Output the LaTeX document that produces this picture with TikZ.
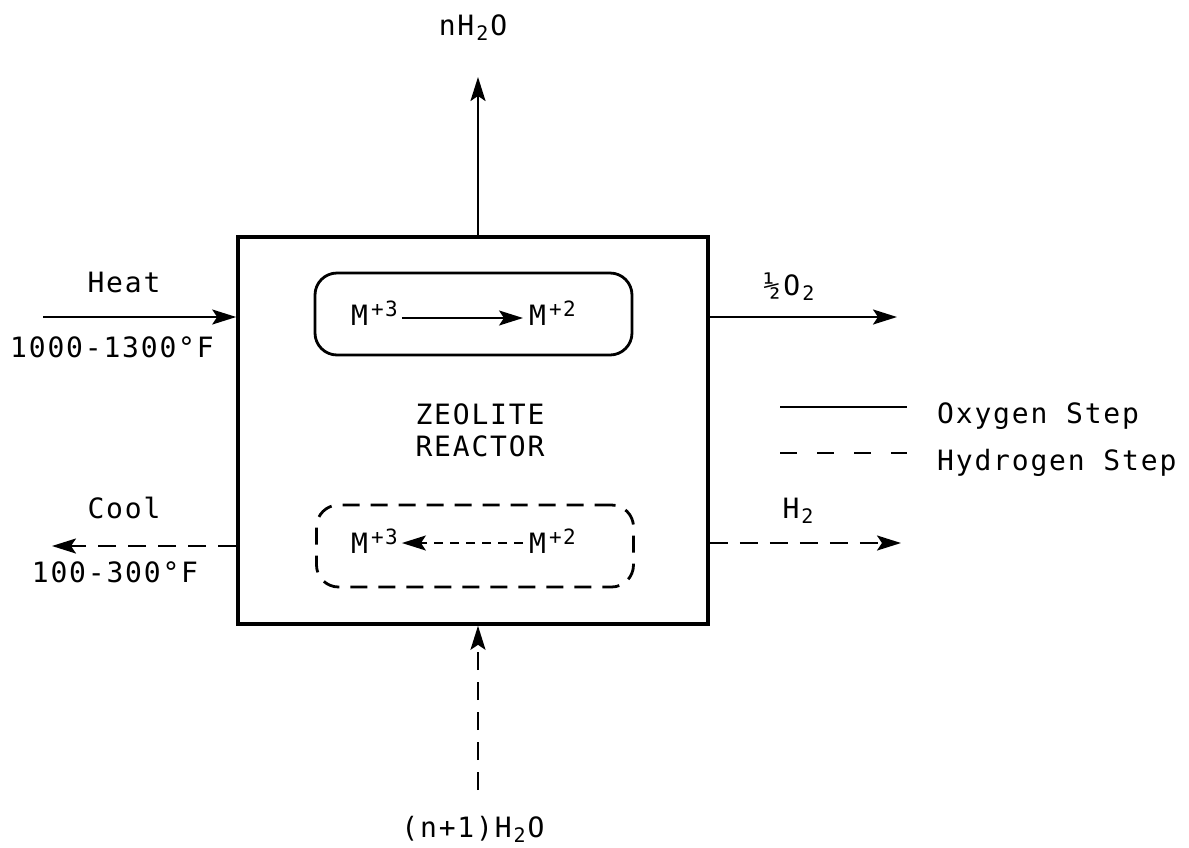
\documentclass[tikz,border=0pt]{standalone}
\usepackage{fontspec}
\usetikzlibrary{arrows.meta,positioning}
\newfontfamily\labelfont{DejaVu Sans Mono}[LetterSpace=6.5]
\newcommand{\chemsub}[1]{\hspace{2pt}\raisebox{-5pt}{\fontsize{20}{20}\selectfont #1}\hspace{2pt}}
\newcommand{\chemsup}[1]{\hspace{3pt}\raisebox{9pt}{\fontsize{21}{21}\selectfont #1}}

\begin{document}
\begin{tikzpicture}[x=1pt,y=-1pt,
          reactor/.style={draw,line width=3.6pt,minimum width=470pt,minimum height=387pt,inner sep=0pt},
          stepbox/.style={draw,line width=2.8pt,rounded corners=22pt,
            minimum width=317pt,minimum height=82pt,inner sep=0pt},
          lbl/.style={font=\labelfont\fontsize{28}{32}\selectfont,inner sep=0pt,align=center},
          flow/.style={-{Stealth[length=24pt,width=15pt,inset=5pt]},line width=2.2pt},
          hflow/.style={flow,dash pattern=on 18pt off 12pt},
          key/.style={line width=2pt}]
        \useasboundingbox (0,0) rectangle (1189,847);
        % reactor and the two steps
        \node[reactor] (reactor) at (473,430.5) {};
        \node[stepbox] (oxbox) at (473.5,314) {};
        \node[stepbox,dash pattern=on 17pt off 11pt] (hybox) at (475,546) {};
        \node[lbl,anchor=base] (title) at (480,456) {ZEOLITE\\REACTOR};
        \node[lbl,anchor=base west] (oxfrom) at (351,325) {M\chemsup{+3}};
        \node[lbl,anchor=base west] (oxto) at (529,325) {M\chemsup{+2}};
        \node[lbl,anchor=base west] (hyto) at (351,553) {M\chemsup{+3}};
        \node[lbl,anchor=base west] (hyfrom) at (529,553) {M\chemsup{+2}};
        \draw[flow,line width=1.8pt,shorten <=4pt,shorten >=6pt] ([yshift=7pt]oxfrom.base east) -- ([yshift=7pt]oxto.base west);
        \draw[flow,line width=1.8pt,dash pattern=on 9pt off 7pt,shorten <=6pt,shorten >=4pt] ([yshift=10pt]hyfrom.base west) -- ([yshift=10pt]hyto.base east);
        % streams in and out
        \coordinate (steamout) at (478,77);
        \coordinate (heatin) at (43,317);
        \coordinate (coolout) at (52,546);
        \coordinate (oxout) at (897,317);
        \coordinate (hyout) at (901,543);
        \coordinate (steamin) at (478,790);
        \draw[flow] (reactor.north -| steamout) -- (steamout);
        \draw[flow] (heatin) -- (reactor.west |- heatin);
        \draw[hflow] (reactor.west |- coolout) -- (coolout);
        \draw[flow] (reactor.east |- oxout) -- (oxout);
        \draw[hflow] (reactor.east |- hyout) -- (hyout);
        \draw[hflow] (steamin) -- (reactor.south -| steamin);
        \node[lbl,anchor=base] (steamlbl) at (473,35) {nH\chemsub{2}O};
        \node[lbl,anchor=base] (heatlbl) at (124,292) {Heat};
        \node[lbl,anchor=base] (heatrange) at (112,357) {1000-1300°F};
        \node[lbl,anchor=base] (coollbl) at (124,518) {Cool};
        \node[lbl,anchor=base] (coolrange) at (115,582) {100-300°F};
        \node[lbl,anchor=base] (oxlbl) at (790,295) {½\hspace{3pt}O\chemsub{2}};
        \node[lbl,anchor=base] (hylbl) at (799,518) {H\chemsub{2}};
        \node[lbl,anchor=base] (feedlbl) at (473,837) {(n+1)H\chemsub{2}O};
        % key
        \node[lbl,anchor=base west] (oxtext) at (937,423) {Oxygen Step};
        \node[lbl,anchor=base west] (hytext) at (937,470) {Hydrogen Step};
        \coordinate (oxkey) at (780,407);
        \coordinate (hykey) at (780,453);
        \draw[key,shorten >=30pt] (oxkey) -- (oxkey -| oxtext.west);
        \draw[key,dash pattern=on 17pt off 20pt,shorten >=30pt] (hykey) -- (hykey -| hytext.west);
      \end{tikzpicture}
\end{document}
